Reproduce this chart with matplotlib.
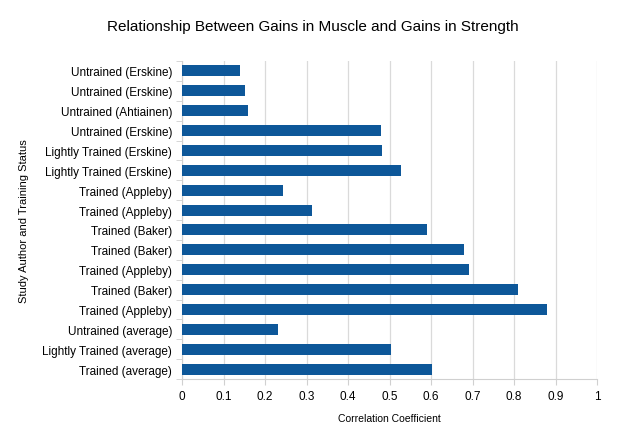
import matplotlib.pyplot as plt
import numpy as np

plt.rcParams["font.family"] = ["Liberation Sans", "DejaVu Sans"]

# * Dados (de cima para baixo)
rotulos = [
    "Untrained (Erskine)",
    "Untrained (Erskine)",
    "Untrained (Ahtiainen)",
    "Untrained (Erskine)",
    "Lightly Trained (Erskine)",
    "Lightly Trained (Erskine)",
    "Trained (Appleby)",
    "Trained (Appleby)",
    "Trained (Baker)",
    "Trained (Baker)",
    "Trained (Appleby)",
    "Trained (Baker)",
    "Trained (Appleby)",
    "Untrained (average)",
    "Lightly Trained (average)",
    "Trained (average)",
]
correlacao = [0.140, 0.151, 0.158, 0.479, 0.483, 0.527, 0.244, 0.314,
              0.590, 0.680, 0.692, 0.810, 0.879, 0.232, 0.504, 0.602]
ticks_x = [0, 0.1, 0.2, 0.3, 0.4, 0.5, 0.6, 0.7, 0.8, 0.9, 1]

fig = plt.figure(figsize=(6.25, 4.39), dpi=100)
ax = fig.add_axes([182 / 625, 1 - 380 / 439, 415 / 625, 318 / 439])

y = np.arange(len(rotulos))
ax.barh(y, correlacao, height=0.55, color="#0d5799", zorder=3)
ax.set_ylim(len(rotulos) - 0.5, -0.5)
ax.set_xlim(0, 1)

ax.set_yticks(y)
ax.set_yticklabels(rotulos, fontsize=8.5)
ax.set_yticks(np.arange(-0.5, len(rotulos)), minor=True)
ax.tick_params(axis="y", which="major", length=0, pad=7)
ax.tick_params(axis="y", which="minor", length=4, color="#d0d0d0")

ax.set_xticks(ticks_x)
ax.set_xticklabels([f"{t:g}" for t in ticks_x], fontsize=8.5)
ax.tick_params(axis="x", length=4, color="#d0d0d0", pad=4)

ax.grid(axis="x", color="#dadada", linewidth=0.9, zorder=0)
for lado in ["top", "right"]:
    ax.spines[lado].set_visible(False)
ax.spines["left"].set_color("#d0d0d0")
ax.spines["bottom"].set_color("#d0d0d0")

ax.set_xlabel("Correlation Coefficient", fontsize=7.5, labelpad=8)
ax.set_ylabel("Study Author and Training Status", fontsize=8, labelpad=10)
fig.suptitle("Relationship Between Gains in Muscle and Gains in Strength",
             fontsize=11, x=0.5, y=0.955)

fig.savefig("out.png", dpi=100)
